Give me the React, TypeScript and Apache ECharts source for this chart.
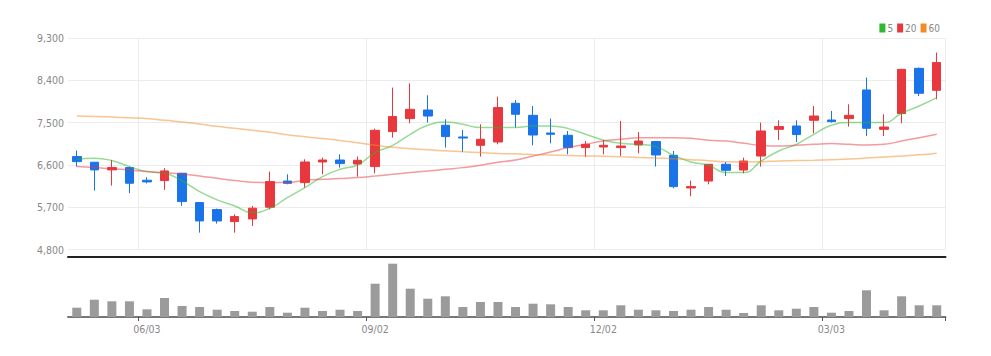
import React, { useEffect, useRef } from 'react';
import * as echarts from 'echarts';

const categories = [
  '05/06', '05/13', '05/20', '05/27', '06/03', '06/10', '06/17', '06/24', '07/01', '07/08',
  '07/15', '07/22', '07/29', '08/05', '08/12', '08/19', '08/26', '09/02', '09/09', '09/16',
  '09/23', '09/30', '10/07', '10/14', '10/21', '10/28', '11/04', '11/11', '11/18', '11/25',
  '12/02', '12/09', '12/16', '12/23', '12/30', '01/06', '01/13', '01/20', '01/27', '02/03',
  '02/10', '02/17', '02/24', '03/03', '03/10', '03/17', '03/24', '03/31', '04/07', '04/14',
];

const opens = [
  6777, 6657, 6494, 6543, 6274, 6266, 6423, 5798, 5649, 5393,
  5451, 5700, 6257, 6223, 6662, 6704, 6619, 6564, 7308, 7585,
  7768, 7443, 7194, 7017, 7087, 7911, 7655, 7279, 7230, 6968,
  6981, 6968, 7024, 7096, 6804, 6109, 6257, 6613, 6491, 6789,
  7357, 7428, 7549, 7555, 7585, 8194, 7357, 7692, 8655, 8187,
];
const closes = [
  6670, 6494, 6543, 6210, 6238, 6472, 5819, 5408, 5408, 5500,
  5679, 6245, 6208, 6662, 6704, 6628, 6698, 7336, 7628, 7783,
  7640, 7202, 7172, 7145, 7819, 7677, 7236, 7251, 6968, 7038,
  7017, 7002, 7108, 6811, 6138, 6138, 6613, 6485, 6683, 7321,
  7415, 7245, 7640, 7521, 7655, 7379, 7406, 8634, 8124, 8777,
];
const lows = [
  6564, 6053, 6160, 5998, 6206, 6068, 5727, 5159, 5351, 5159,
  5302, 5657, 6187, 6117, 6400, 6542, 6351, 6421, 7181, 7485,
  7500, 6968, 6874, 6777, 7038, 7394, 7017, 7059, 6825, 6768,
  6825, 6790, 6847, 6564, 6102, 5932, 6187, 6364, 6421, 6564,
  7130, 7087, 7272, 7500, 7415, 7215, 7215, 7485, 8066, 7996,
];
const highs = [
  6904, 6660, 6706, 6564, 6338, 6530, 6430, 5800, 5670, 5549,
  5727, 6457, 6400, 6719, 6755, 6825, 6777, 7372, 8245, 8336,
  8081, 7570, 7343, 7464, 8053, 7981, 7853, 7585, 7321, 7108,
  7130, 7534, 7300, 7100, 6896, 6266, 6620, 6662, 6755, 7500,
  7549, 7549, 7853, 7747, 7889, 8458, 7677, 8640, 8670, 8990,
];

const ma5 = [
  6721, 6743, 6692, 6564, 6457, 6423, 6260, 6032, 5855, 5727,
  5585, 5677, 5904, 6117, 6351, 6506, 6598, 6862, 7017, 7251,
  7443, 7513, 7464, 7394, 7394, 7394, 7428, 7428, 7372, 7251,
  7130, 7059, 7038, 6989, 6804, 6662, 6591, 6436, 6436, 6683,
  6896, 7038, 7251, 7443, 7500, 7500, 7500, 7698, 7853, 8032,
];
const ma20 = [
  6564, 6543, 6515, 6494, 6457, 6436, 6408, 6366, 6315, 6266,
  6230, 6223, 6223, 6272, 6294, 6308, 6330, 6364, 6400, 6436,
  6470, 6506, 6542, 6591, 6655, 6704, 6789, 6874, 6968, 7038,
  7108, 7145, 7180, 7180, 7180, 7166, 7123, 7108, 7059, 7017,
  7002, 7017, 7038, 7053, 7038, 7023, 7038, 7108, 7180, 7251,
];
const ma60 = [
  7640, 7630, 7618, 7603, 7585, 7548, 7515, 7470, 7420, 7378,
  7338, 7295, 7240, 7200, 7160, 7120, 7070, 7020, 6975, 6945,
  6920, 6900, 6880, 6862, 6845, 6835, 6822, 6810, 6800, 6792,
  6783, 6772, 6760, 6745, 6730, 6710, 6690, 6665, 6662, 6668,
  6683, 6692, 6700, 6712, 6725, 6745, 6770, 6790, 6815, 6850,
];
const volumes = [
  93, 173, 157, 157, 77, 190, 110, 100, 73, 60,
  53, 100, 43, 93, 60, 73, 60, 333, 533, 283,
  183, 207, 100, 150, 150, 100, 133, 127, 100, 67,
  67, 117, 73, 67, 60, 73, 100, 73, 40, 117,
  67, 83, 100, 43, 60, 267, 67, 207, 117, 117,
];

const tickLabels = ['06/03', '09/02', '12/02', '03/03'];
const maNames = ['5', '20', '60'];
const yMin = 4800;
const yMax = 9300;
const yStep = 900;
const volMax = 550;

const FONT = "'Liberation Sans Narrow', 'DejaVu Sans Condensed', 'Roboto Condensed', 'Liberation Sans', sans-serif";
const STRETCH = 'condensed';

export default function App() {
  const ref = useRef<HTMLDivElement>(null);
  useEffect(() => {
    const chart = echarts.init(ref.current!, null, { renderer: 'svg' });
    const showTick = (_i: number, v: string) => tickLabels.includes(v);
    const candles = categories.map((_, i) => [opens[i], closes[i], lows[i], highs[i]]);
    const up = '#e8373d';
    const down = '#1a73e8';
    const maColors = ['#2eb82e', '#e8373d', '#f28c28'];
    const maData = [ma5, ma20, ma60];
    chart.setOption({
      animation: false,
      textStyle: { fontFamily: FONT },
      legend: {
        data: maNames,
        right: 46,
        top: 18,
        icon: 'rect',
        itemWidth: 6,
        itemHeight: 9,
        itemGap: 4,
        textStyle: { color: '#888', fontSize: 10, fontFamily: FONT, fontWeight: STRETCH, padding: [0, 0, 0, -3] },
      },
      grid: [
        { left: 68, right: 45.5, top: 38, height: 211.5 },
        { left: 68, right: 45.5, top: 262, height: 55 },
      ],
      xAxis: [
        {
          type: 'category',
          gridIndex: 0,
          data: categories,
          boundaryGap: true,
          offset: 7,
          axisLine: { lineStyle: { color: '#222', width: 2 } },
          axisTick: { show: false },
          axisLabel: { show: false },
          splitLine: { show: true, interval: showTick, lineStyle: { color: '#ececec' } },
        },
        {
          type: 'category',
          gridIndex: 1,
          data: categories,
          boundaryGap: true,
          axisLine: { lineStyle: { color: '#777', width: 2 } },
          axisTick: { show: true, interval: showTick, length: 4, lineStyle: { color: '#555' } },
          axisLabel: { interval: showTick, color: '#888', fontSize: 10.5, margin: 6, fontFamily: FONT, fontWeight: STRETCH },
          splitLine: { show: false },
        },
      ],
      yAxis: [
        {
          type: 'value',
          gridIndex: 0,
          min: yMin,
          max: yMax,
          interval: yStep,
          axisLine: { show: false },
          axisTick: { show: false },
          axisLabel: {
            color: '#888',
            fontSize: 10.5,
            margin: 4,
            fontFamily: FONT,
            fontWeight: STRETCH,
            formatter: (v: number) => v.toLocaleString('en-US'),
          },
          splitLine: { lineStyle: { color: '#ececec' } },
        },
        {
          type: 'value',
          gridIndex: 1,
          min: 0,
          max: volMax,
          show: false,
          splitLine: { show: false },
        },
      ],
      series: [
        {
          type: 'candlestick',
          name: 'price',
          xAxisIndex: 0,
          yAxisIndex: 0,
          data: candles,
          barWidth: 9,
          itemStyle: {
            color: up,
            color0: down,
            borderColor: up,
            borderColor0: down,
            borderWidth: 1,
          },
        },
        ...maNames.map((n, k) => ({
          type: 'line',
          name: n,
          xAxisIndex: 0,
          yAxisIndex: 0,
          data: maData[k],
          smooth: true,
          showSymbol: false,
          color: maColors[k],
          lineStyle: { width: 1.5, opacity: 0.5 },
          z: 3,
        })),
        {
          type: 'bar',
          name: 'volume',
          xAxisIndex: 1,
          yAxisIndex: 1,
          data: volumes,
          barWidth: 9,
          itemStyle: { color: '#9b9b9b' },
        },
      ],
    });
    return () => chart.dispose();
  }, []);
  return (
    <div
      ref={ref}
      style={{ position: 'fixed', left: 0, top: 0, width: 991, height: 356, background: '#fff' }}
    />
  );
}
